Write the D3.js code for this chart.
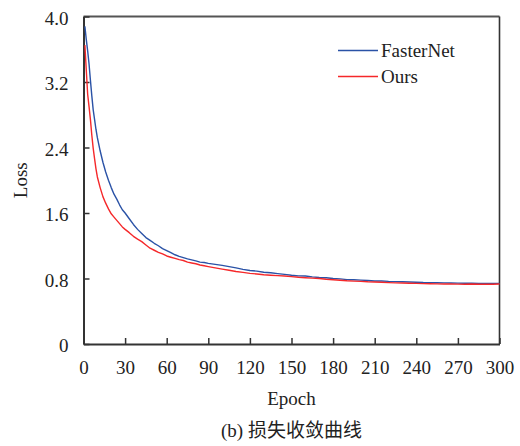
<!DOCTYPE html>
<html>
<head>
<meta charset="utf-8">
<script src="https://cdn.jsdelivr.net/npm/d3@7"></script>
<style>
  html, body { margin: 0; padding: 0; background: #fff; }
  svg { display: block; }
</style>
</head>
<body>
<div id="chart"></div>
<script>
// Training loss per epoch for the two models
const epochs = [1, 2, 3, 4, 5, 6, 7, 8, 9, 10, 12, 14, 16, 18, 20, 22, 24, 26, 28, 30,
  33, 36, 39, 42, 45, 48, 51, 54, 57, 60, 63, 66, 69, 72, 75, 78, 81, 84, 87, 90,
  95, 100, 105, 110, 115, 120, 125, 130, 135, 140, 145, 150, 155, 160, 165, 170, 175, 180,
  185, 190, 195, 200, 205, 210, 215, 220, 225, 230, 235, 240, 245, 250, 255, 260, 265,
  270, 275, 280, 285, 290, 295, 300];

const fasterNetLoss = [3.88, 3.72, 3.58, 3.42, 3.22, 3.03, 2.86, 2.74, 2.62, 2.52, 2.36, 2.22, 2.10, 2.00, 1.91, 1.83, 1.77, 1.70, 1.64, 1.60,
  1.53, 1.46, 1.40, 1.35, 1.30, 1.265, 1.23, 1.20, 1.165, 1.14, 1.115, 1.09, 1.07, 1.055, 1.04, 1.028, 1.015, 1.0, 0.995, 0.985,
  0.972, 0.96, 0.945, 0.93, 0.912, 0.897, 0.89, 0.876, 0.87, 0.86, 0.85, 0.84, 0.832, 0.83, 0.82, 0.812, 0.81, 0.80,
  0.795, 0.786, 0.785, 0.78, 0.775, 0.77, 0.77, 0.765, 0.762, 0.76, 0.757, 0.755, 0.751, 0.75, 0.748, 0.746, 0.745,
  0.744, 0.742, 0.742, 0.741, 0.740, 0.741, 0.741];

const oursLoss = [3.65, 3.35, 3.05, 2.90, 2.74, 2.55, 2.39, 2.26, 2.14, 2.04, 1.91, 1.80, 1.72, 1.65, 1.59, 1.55, 1.51, 1.47, 1.43, 1.40,
  1.36, 1.315, 1.28, 1.25, 1.21, 1.17, 1.145, 1.12, 1.10, 1.075, 1.06, 1.045, 1.03, 1.02, 1.0, 0.99, 0.98, 0.965, 0.955, 0.945,
  0.93, 0.915, 0.90, 0.885, 0.875, 0.863, 0.855, 0.845, 0.84, 0.835, 0.83, 0.823, 0.815, 0.81, 0.805, 0.80, 0.79, 0.785,
  0.778, 0.772, 0.768, 0.765, 0.76, 0.757, 0.754, 0.75, 0.747, 0.745, 0.742, 0.74, 0.738, 0.736, 0.734, 0.733, 0.732,
  0.731, 0.730, 0.732, 0.730, 0.731, 0.730, 0.732];

const seriesNames = ["FasterNet", "Ours"];
const seriesColors = ["#2a52a6", "#f5282a"];

const xTickValues = [0, 30, 60, 90, 120, 150, 180, 210, 240, 270, 300];
const yTickValues = [0, 0.8, 1.6, 2.4, 3.2, 4.0];
const yTickLabels = ["0", "0.8", "1.6", "2.4", "3.2", "4.0"];

const W = 520, H = 446;
const serif = "'Liberation Serif', 'Times New Roman', serif";

const svg = d3.select("#chart").append("svg")
  .attr("width", W).attr("height", H);

const x = d3.scaleLinear().domain([0, 300]).range([83.5, 499.5]);
const y = d3.scaleLinear().domain([0, 4]).range([344, 16.5]);

const plotL = x(0), plotR = x(300), plotT = y(4), plotB = y(0);

// frame: top and right edges
svg.append("line").attr("x1", plotL).attr("x2", plotR).attr("y1", plotT).attr("y2", plotT)
  .attr("stroke", "#555").attr("stroke-width", 2);
svg.append("line").attr("x1", plotR).attr("x2", plotR).attr("y1", plotT).attr("y2", plotB)
  .attr("stroke", "#333").attr("stroke-width", 1.6);

// x axis
const xAxis = svg.append("g")
  .attr("transform", `translate(0,${plotB})`)
  .call(d3.axisBottom(x).tickValues(xTickValues).tickFormat(d3.format("d"))
    .tickSizeInner(-6).tickSizeOuter(0).tickPadding(17));
xAxis.select(".domain").attr("stroke", "#333").attr("stroke-width", 2);
xAxis.selectAll(".tick line").attr("stroke", "#333").attr("stroke-width", 1.5);
xAxis.selectAll(".tick text").attr("fill", "#222")
  .style("font-family", serif).style("font-size", "19px");

// y axis
const yAxis = svg.append("g")
  .attr("transform", `translate(${plotL},0)`)
  .call(d3.axisLeft(y).tickValues(yTickValues).tickFormat((d, i) => yTickLabels[i])
    .tickSizeInner(-6).tickSizeOuter(0).tickPadding(15));
yAxis.select(".domain").attr("stroke", "#333").attr("stroke-width", 2);
yAxis.selectAll(".tick line").attr("stroke", "#333").attr("stroke-width", 1.5);
yAxis.selectAll(".tick text").attr("fill", "#222")
  .style("font-family", serif).style("font-size", "19px").attr("dy", "0.4em");

// axis titles
svg.append("text").attr("x", (plotL + plotR) / 2).attr("y", 405)
  .attr("text-anchor", "middle").attr("fill", "#222")
  .style("font-family", serif).style("font-size", "19px").text("Epoch");
svg.append("text")
  .attr("transform", `translate(27,${(plotT + plotB) / 2}) rotate(-90)`)
  .attr("text-anchor", "middle").attr("fill", "#222")
  .style("font-family", serif).style("font-size", "19px").text("Loss");

// loss curves
const line = d3.line().x((d, i) => x(epochs[i])).y(d => y(d));
[fasterNetLoss, oursLoss].forEach((vals, k) => {
  svg.append("path").datum(vals)
    .attr("d", line)
    .attr("fill", "none")
    .attr("stroke", seriesColors[k])
    .attr("stroke-width", 1.4)
    .attr("stroke-linejoin", "round");
});

// legend
const legend = svg.append("g").attr("transform", "translate(338,50.5)");
seriesNames.forEach((name, k) => {
  const g = legend.append("g").attr("transform", `translate(0,${k * 26})`);
  g.append("line").attr("x1", 0).attr("x2", 40).attr("y1", 0).attr("y2", 0)
    .attr("stroke", seriesColors[k]).attr("stroke-width", 1.6);
  g.append("text").attr("x", 43).attr("y", 6.5).attr("fill", "#222")
    .style("font-family", serif).style("font-size", "19px").text(name);
});

// caption
svg.append("text").attr("x", (plotL + plotR) / 2).attr("y", 437)
  .attr("text-anchor", "middle").attr("fill", "#222")
  .style("font-family", "'Liberation Serif', 'Noto Sans CJK SC', serif")
  .style("font-size", "19px").text("(b) 损失收敛曲线");
</script>
</body>
</html>
